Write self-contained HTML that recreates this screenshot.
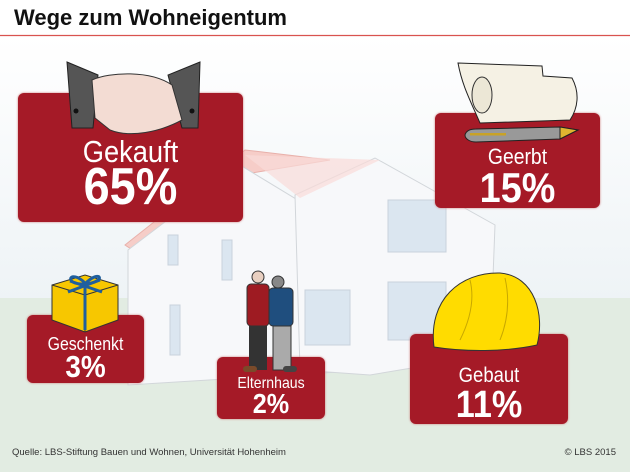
<!DOCTYPE html>
<html><head><meta charset="utf-8"><style>
body{margin:0;width:630px;height:472px;overflow:hidden;font-family:"Liberation Sans",sans-serif;position:relative;background:#fff}
.box{position:absolute;background:#a51a27;border-radius:6px;color:#fff;text-align:center;box-shadow:0 0 2px #c77}
.lab{position:absolute;left:0;right:0;line-height:1;transform:scaleX(0.88)}
.val{position:absolute;left:0;right:0;font-weight:bold;line-height:1;transform:scaleX(0.9)}
</style></head><body>
<svg width="630" height="472" style="position:absolute;left:0;top:0">
<defs><linearGradient id="sky" x1="0" y1="0" x2="0" y2="1"><stop offset="0" stop-color="#ffffff"/><stop offset="1" stop-color="#eef3f6"/></linearGradient></defs>
<rect x="0" y="36" width="630" height="265" fill="url(#sky)"/>
<rect x="0" y="298" width="630" height="174" fill="#e2ece2"/>
<polygon points="125,245 245,150 330,160 240,175 140,255" fill="#f6cdc8" stroke="#e8b0aa"/>
<polygon points="128,250 240,165 380,250 370,370 128,385" fill="#f7f8fa" stroke="#d2d6da"/>
<polygon points="295,195 375,158 495,225 490,355 370,375 300,370" fill="#f7f8fa" stroke="#d2d6da"/>
<polygon points="245,155 380,160 300,198" fill="#f9dcd8" opacity=".7"/>
<g fill="#dbe6f0" stroke="#c8d2dc">
<rect x="388" y="200" width="58" height="52"/><rect x="388" y="282" width="58" height="58"/>
<rect x="305" y="290" width="45" height="55"/><rect x="222" y="240" width="10" height="40"/><rect x="170" y="305" width="10" height="50"/><rect x="168" y="235" width="10" height="30"/>
</g>
<rect x="0" y="0" width="630" height="36" fill="#fff"/>
<line x1="0" y1="35.5" x2="630" y2="35.5" stroke="#d9534f" stroke-width="1.2"/>
</svg>
<div style="position:absolute;left:14px;top:5px;font-size:22px;font-weight:bold;color:#111">Wege zum Wohneigentum</div>
<div id="boxes"></div>
<svg width="630" height="472" style="position:absolute;left:0;top:0;pointer-events:none">
<g>
<polygon points="67,62 98,75 93,128 72,128" fill="#555" stroke="#222"/>
<polygon points="200,62 168,75 182,128 198,128" fill="#555" stroke="#222"/>
<path d="M92,80 C110,72 150,70 172,85 L182,120 C160,132 130,138 110,130 L95,118 Z" fill="#f3dcd3" stroke="#333"/>
<circle cx="76" cy="111" r="2.5" fill="#111"/><circle cx="192" cy="111" r="2.5" fill="#111"/>
</g>
<g>
<path d="M458,63 L542,66 L543,76 L572,78 C580,93 578,108 570,120 L480,123 C470,100 462,85 458,63Z" fill="#f5f1e4" stroke="#222"/>
<ellipse cx="482" cy="95" rx="10" ry="18" fill="#ece7d6" stroke="#333"/>
<path d="M465,135 C466,131 470,129 476,129 L560,127 L578,130 L560,139 L476,142 C470,142 465,139 465,135Z" fill="#999" stroke="#222"/>
<rect x="470" y="133" width="36" height="2.5" fill="#c9a227"/>
<polygon points="560,127 578,130 560,139" fill="#e0b530" stroke="#222"/>
</g>
<g>
<polygon points="52,285 85,275 118,285 118,320 85,332 52,320" fill="#f7c700" stroke="#333"/>
<line x1="52" y1="285" x2="85" y2="295" stroke="#333"/><line x1="118" y1="285" x2="85" y2="295" stroke="#333"/><line x1="85" y1="295" x2="85" y2="332" stroke="#333"/>
<path d="M70,281 L102,292 M100,280 L68,292 M85,284 L85,330 M85,283 C70,268 62,285 85,284 C100,268 108,282 85,284" stroke="#1f5f9e" stroke-width="3" fill="none"/>
</g>
<g>
<circle cx="258" cy="277" r="6" fill="#e8cfc0" stroke="#333"/><circle cx="278" cy="282" r="6" fill="#888" stroke="#333"/>
<rect x="247" y="284" width="22" height="42" rx="4" fill="#9e1b22" stroke="#333"/>
<rect x="269" y="288" width="24" height="38" rx="4" fill="#1f4e7e" stroke="#333"/>
<rect x="249" y="326" width="18" height="44" fill="#333"/><rect x="273" y="326" width="18" height="44" fill="#aaa" stroke="#333"/>
<rect x="243" y="366" width="14" height="6" rx="3" fill="#7a4a2a"/><rect x="283" y="366" width="14" height="6" rx="3" fill="#444"/>
</g>
<g>
<path d="M434,347 C428,300 460,272 500,273 C535,276 545,315 537,345 C505,352 465,352 434,347 Z" fill="#ffdc00" stroke="#333"/>
<path d="M470,280 C475,300 470,320 460,340 M505,278 C510,300 508,320 500,340" stroke="#c8a800" fill="none"/>
</g>
</svg>
<div style="position:absolute;left:12px;top:447px;font-size:9.5px;color:#333">Quelle: LBS-Stiftung Bauen und Wohnen, Universität Hohenheim</div>
<div style="position:absolute;right:14px;top:447px;font-size:9.5px;color:#333">© LBS 2015</div>
<script>
const categories=["Gekauft","Geerbt","Geschenkt","Elternhaus","Gebaut"];
const values=[65,15,3,2,11];
const layout=[
 {x:18,y:93,w:225,h:129,ls:31,lt:43,vs:52,vt:68},
 {x:435,y:113,w:165,h:95,ls:22,lt:33,vs:42,vt:54},
 {x:27,y:315,w:117,h:68,ls:18,lt:20,vs:31,vt:36},
 {x:217,y:357,w:108,h:62,ls:16,lt:19,vs:28,vt:33},
 {x:410,y:334,w:158,h:90,ls:21,lt:31,vs:38,vt:52}];
const c=document.getElementById('boxes');
categories.forEach((cat,i)=>{const L=layout[i];const b=document.createElement('div');
b.className='box';


b.style.cssText=`left:${L.x}px;top:${L.y}px;width:${L.w}px;height:${L.h}px`;
const l=document.createElement('div');l.className='lab';


l.style.top=L.lt+'px';l.style.fontSize=L.ls+'px';l.textContent=cat;
const v=document.createElement('div');v.className='val';


v.style.top=L.vt+'px';v.style.fontSize=L.vs+'px';v.textContent=values[i]+'%';
b.appendChild(l);b.appendChild(v);c.appendChild(b);});
</script>
</body></html>
